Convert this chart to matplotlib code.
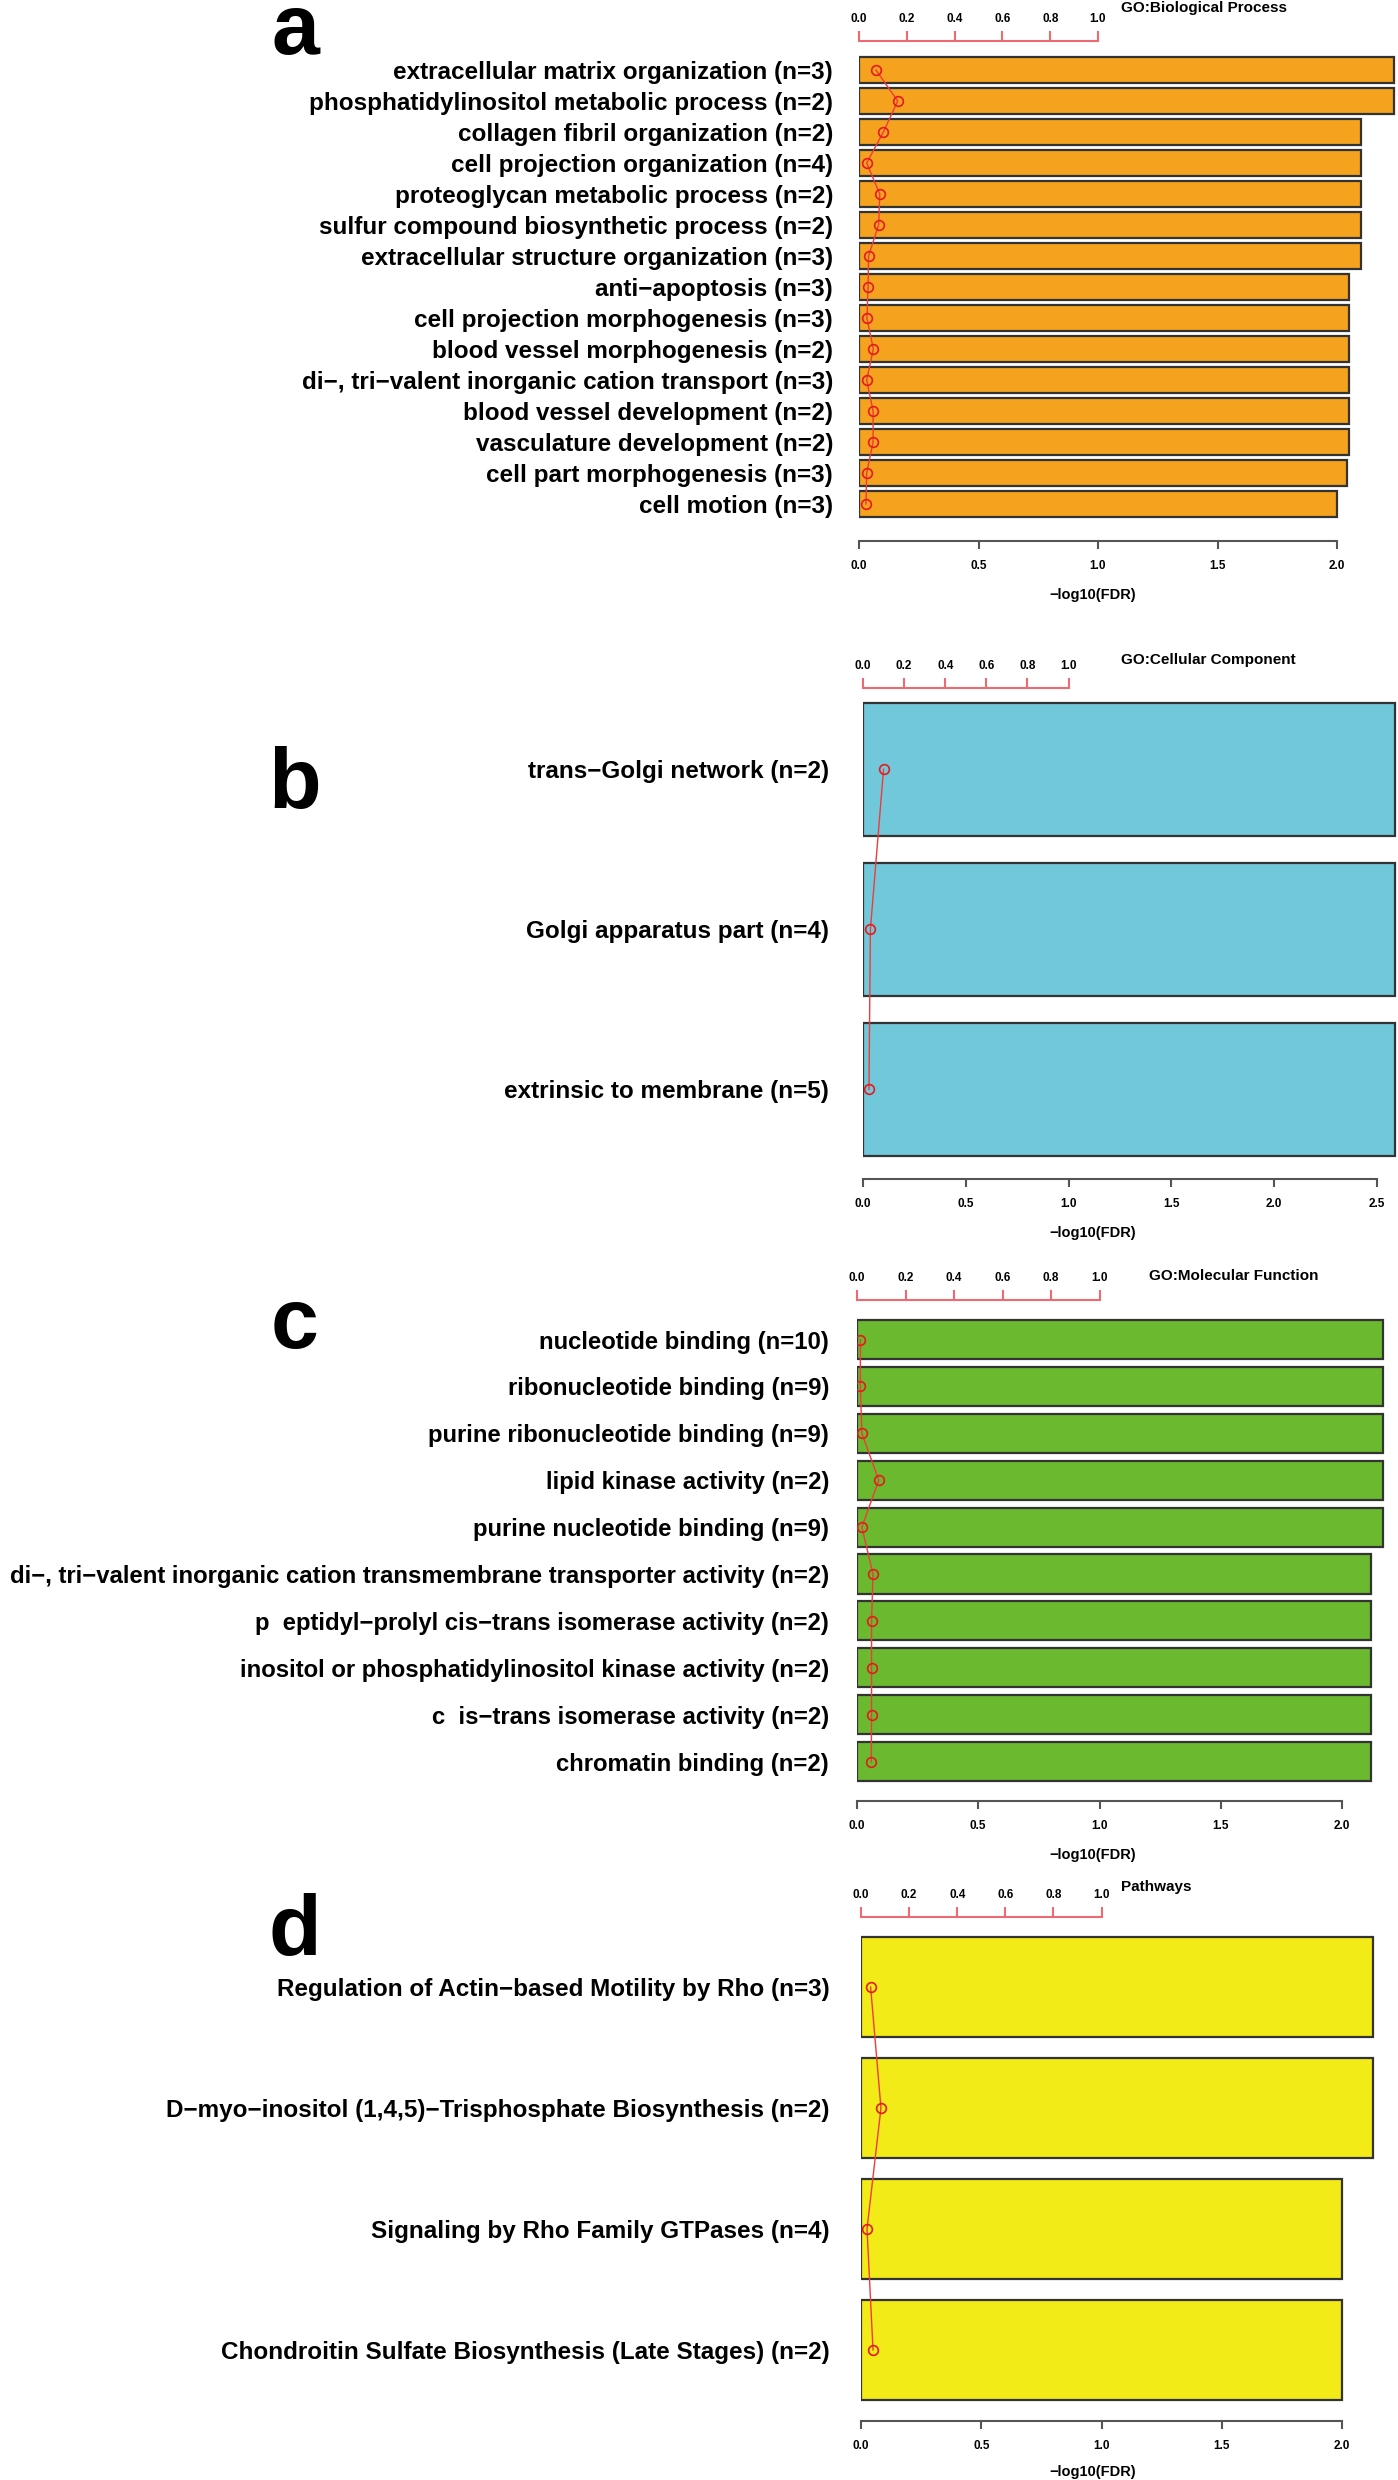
import matplotlib
matplotlib.use("Agg")
import numpy as np
import matplotlib.pyplot as plt

# ============================================================
# DATA
# ============================================================

bp_terms = [
    "extracellular matrix organization (n=3)",
    "phosphatidylinositol metabolic process (n=2)",
    "collagen fibril organization (n=2)",
    "cell projection organization (n=4)",
    "proteoglycan metabolic process (n=2)",
    "sulfur compound biosynthetic process (n=2)",
    "extracellular structure organization (n=3)",
    "anti\u2212apoptosis (n=3)",
    "cell projection morphogenesis (n=3)",
    "blood vessel morphogenesis (n=2)",
    "di\u2212, tri\u2212valent inorganic cation transport (n=3)",
    "blood vessel development (n=2)",
    "vasculature development (n=2)",
    "cell part morphogenesis (n=3)",
    "cell motion (n=3)",
]
bp_logfdr = [2.24, 2.24, 2.10, 2.10, 2.10, 2.10, 2.10, 2.05, 2.05, 2.05, 2.05, 2.05, 2.05, 2.04, 2.00]
bp_fdr = [0.071, 0.162, 0.102, 0.032, 0.087, 0.082, 0.040, 0.038, 0.033, 0.060, 0.032, 0.059, 0.059, 0.032, 0.029]

cc_terms = [
    "trans\u2212Golgi network (n=2)",
    "Golgi apparatus part (n=4)",
    "extrinsic to membrane (n=5)",
]
cc_logfdr = [2.59, 2.59, 2.59]
cc_fdr = [0.100, 0.036, 0.029]

mf_terms = [
    "nucleotide binding (n=10)",
    "ribonucleotide binding (n=9)",
    "purine ribonucleotide binding (n=9)",
    "lipid kinase activity (n=2)",
    "purine nucleotide binding (n=9)",
    "di\u2212, tri\u2212valent inorganic cation transmembrane transporter activity (n=2)",
    "p  eptidyl\u2212prolyl cis\u2212trans isomerase activity (n=2)",
    "inositol or phosphatidylinositol kinase activity (n=2)",
    "c  is\u2212trans isomerase activity (n=2)",
    "chromatin binding (n=2)",
]
mf_logfdr = [2.17, 2.17, 2.17, 2.17, 2.17, 2.12, 2.12, 2.12, 2.12, 2.12]
mf_fdr = [0.014, 0.014, 0.020, 0.090, 0.020, 0.066, 0.060, 0.060, 0.060, 0.059]

pw_terms = [
    "Regulation of Actin\u2212based Motility by Rho (n=3)",
    "D\u2212myo\u2212inositol (1,4,5)\u2212Trisphosphate Biosynthesis (n=2)",
    "Signaling by Rho Family GTPases (n=4)",
    "Chondroitin Sulfate Biosynthesis (Late Stages) (n=2)",
]
pw_logfdr = [2.13, 2.13, 2.00, 2.00]
pw_fdr = [0.040, 0.083, 0.025, 0.050]

# ============================================================
# STYLE / LAYOUT (pixel positions on a 1398x2480 canvas)
# ============================================================

W, H = 1398, 2480
FONT = ["Liberation Sans", "DejaVu Sans"]
TOP_RED = "#EE6A72"
LINE_RED = "#EE3B3B"
PT_RED = "#E41A1C"
XLABEL_X = 1093

panels = [
    dict(terms=bp_terms, vals=bp_logfdr, fdr=bp_fdr, color="#F5A31F",
         x0=859, ppu=239, top=41, bot=541, c1=70, pitch=31.0, xmax=2.0,
         title="GO:Biological Process", tx=1121, ty=8,
         letter="a", ly=54, xly=595, lab_end=833, fs=17.5),
    dict(terms=cc_terms, vals=cc_logfdr, fdr=cc_fdr, color="#72C8DB",
         x0=863, ppu=205.5, top=688, bot=1179, c1=769.3, pitch=160, xmax=2.5,
         title="GO:Cellular Component", tx=1121, ty=660,
         letter="b", ly=808, xly=1233, lab_end=829, fs=17.5),
    dict(terms=mf_terms, vals=mf_logfdr, fdr=mf_fdr, color="#6BB92F",
         x0=857, ppu=242.5, top=1300, bot=1801, c1=1339.5, pitch=46.9, xmax=2.0,
         title="GO:Molecular Function", tx=1149, ty=1276,
         letter="c", ly=1348, xly=1855, lab_end=829, fs=17.2),
    dict(terms=pw_terms, vals=pw_logfdr, fdr=pw_fdr, color="#F2EB17",
         x0=861, ppu=240.5, top=1917, bot=2421, c1=1987, pitch=121, xmax=2.0,
         title="Pathways", tx=1121, ty=1887,
         letter="d", ly=1955, xly=2472, lab_end=830, fs=17.5),
]

fig = plt.figure(figsize=(W / 100, H / 100), dpi=100)


def fy(py):
    return 1 - py / H


# ============================================================
# DRAW PANELS
# ============================================================

for p in panels:
    n = len(p["terms"])
    pos = np.arange(n)

    ax = fig.add_axes([p["x0"] / W, fy(p["bot"]), (W - p["x0"]) / W, (p["bot"] - p["top"]) / H])
    ax.set_xlim(0, (W - p["x0"]) / p["ppu"])
    ax.set_ylim((p["bot"] - p["c1"]) / p["pitch"], (p["top"] - p["c1"]) / p["pitch"])
    ax.patch.set_visible(False)

    ax.barh(pos, p["vals"], height=0.833, color=p["color"],
            edgecolor="#333333", linewidth=1.6, zorder=2)
    ax.plot(p["fdr"], pos, color=LINE_RED, lw=1.0, zorder=3)
    ax.plot(p["fdr"], pos, "o", mfc="none", mec=PT_RED, ms=7, mew=1.2, zorder=4)

    for s in ["top", "left", "right"]:
        ax.spines[s].set_visible(False)
    ax.spines["bottom"].set_bounds(0, p["xmax"])
    ax.spines["bottom"].set_color("#555555")
    ax.spines["bottom"].set_linewidth(1.5)

    bticks = np.arange(0, p["xmax"] + 0.01, 0.5)
    ax.set_xticks(bticks)
    ax.set_xticklabels([f"{t:.1f}" for t in bticks], fontsize=8.5,
                       fontweight="bold", family=FONT)
    ax.tick_params(axis="x", direction="out", length=6, width=1.5,
                   color="#555555", pad=7.5)

    ax.set_yticks(pos)
    ax.set_yticklabels(p["terms"], fontsize=p["fs"], fontweight="bold", family=FONT)
    ax.tick_params(axis="y", length=0, pad=(p["x0"] - p["lab_end"]) * 0.72)

    # FDR scale on top
    ax2 = ax.twiny()
    ax2.set_xlim(ax.get_xlim())
    for s in ["bottom", "left", "right"]:
        ax2.spines[s].set_visible(False)
    ax2.spines["top"].set_bounds(0, 1)
    ax2.spines["top"].set_color(TOP_RED)
    ax2.spines["top"].set_linewidth(1.5)
    tticks = np.arange(0, 1.01, 0.2)
    ax2.set_xticks(tticks)
    ax2.set_xticklabels([f"{t:.1f}" for t in tticks], fontsize=8.5,
                        fontweight="bold", family=FONT)
    ax2.tick_params(axis="x", direction="out", length=7, width=1.5,
                    color=TOP_RED, pad=4.5)

    fig.text(p["tx"] / W, fy(p["ty"]), p["title"], fontsize=11,
             fontweight="bold", family=FONT, ha="left", va="center")
    fig.text(XLABEL_X / W, fy(p["xly"]), "\u2212log10(FDR)", fontsize=10.5,
             fontweight="bold", family=FONT, ha="center", va="center")
    fig.text(295 / W, fy(p["ly"]), p["letter"], fontsize=62,
             fontweight="bold", family=FONT, ha="center", va="baseline")

fig.savefig("out.png", dpi=100)
plt.close(fig)
